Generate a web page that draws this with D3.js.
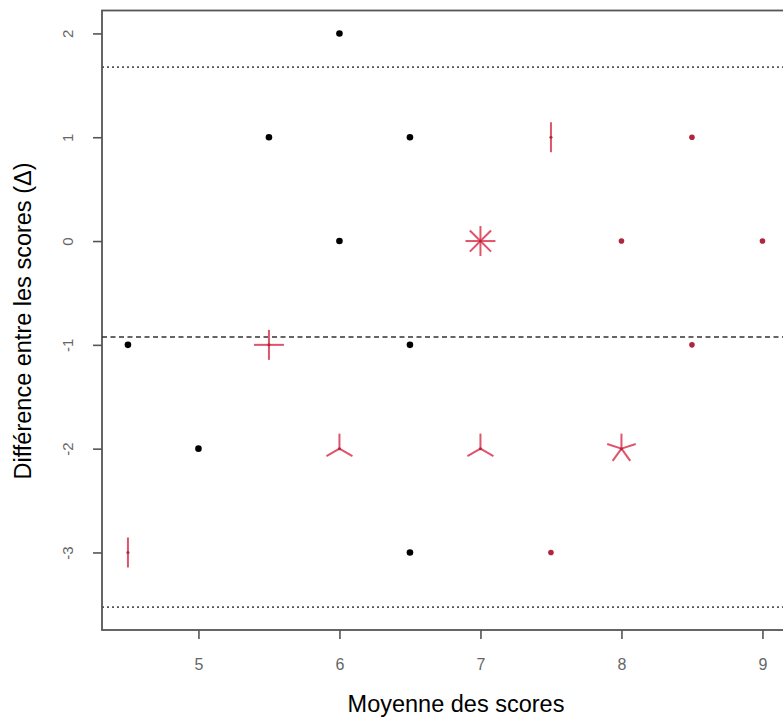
<!DOCTYPE html>
<html><head><meta charset="utf-8">
<script src="https://cdn.jsdelivr.net/npm/d3@7"></script>
<style>body{margin:0;background:#fff;} svg{display:block;font-family:"Liberation Sans",Arial,sans-serif;}</style>
</head><body>
<svg id="c" width="783" height="719"></svg>
<script>
// Data
const xTicks = [5, 6, 7, 8, 9];
const yTicks = [-3, -2, -1, 0, 1, 2];
// single observations (black)
const blackX = [4.5, 5, 5.5, 6, 6, 6.5, 6.5, 6.5];
const blackY = [-1, -2, 1, 2, 0, 1, -1, -3];
// single observations (red)
const redX = [8.5, 8, 9, 8.5, 7.5];
const redY = [1, 0, 0, -1, -3];
// sunflowers (multiple observations)
const sunX = [4.5, 5.5, 6, 7, 7, 7.5, 8];
const sunY = [-3, -1, -2, -2, 0, 1, -2];
const sunN = [2, 4, 3, 3, 8, 2, 5];
// reference lines: mean difference and limits of agreement
const meanDiff = -0.925;
const upperLoA = 1.675;
const lowerLoA = -3.526;

const svg = d3.select("#c");
const x = d3.scaleLinear().domain([4.316, 9.184]).range([102, 788.4]);
const y = d3.scaleLinear().domain([-3.747, 2.221]).range([630, 10.5]);

// box
svg.append("rect").attr("x", x(4.316)).attr("y", y(2.221))
  .attr("width", x(9.184) - x(4.316)).attr("height", y(-3.747) - y(2.221))
  .attr("fill", "none").attr("stroke", "#555").attr("stroke-width", 1.8);

// axes
const xAxis = d3.axisBottom(x).tickValues(xTicks).tickSize(9).tickPadding(20).tickFormat(d3.format("d"));
const gx = svg.append("g").attr("transform", `translate(0,630)`).call(xAxis);
gx.select(".domain").remove();
gx.selectAll("line").attr("stroke", "#555").attr("stroke-width", 1.6);
gx.selectAll("text").attr("fill", "#666").attr("font-size", 16).attr("font-family", "Liberation Sans, Arial, sans-serif");

const yAxis = d3.axisLeft(y).tickValues(yTicks).tickSize(9).tickFormat(d => d < 0 ? "-" + Math.abs(d) : String(d));
const gy = svg.append("g").attr("transform", `translate(102,0)`).call(yAxis);
gy.select(".domain").remove();
gy.selectAll("line").attr("stroke", "#555").attr("stroke-width", 1.6);
gy.selectAll("text").attr("fill", "#666").attr("font-size", 15).attr("font-family", "Liberation Sans, Arial, sans-serif")
  .attr("x", null).attr("text-anchor", "middle")
  .attr("transform", `translate(-34,0) rotate(-90)`).attr("dy", "0.35em");

// reference lines
const xr = [4.316, 9.184];
svg.append("line").attr("x1", x(xr[0])).attr("x2", x(xr[1])).attr("y1", y(upperLoA)).attr("y2", y(upperLoA))
  .attr("stroke", "#555").attr("stroke-width", 1.8).attr("stroke-dasharray", "2,3");
svg.append("line").attr("x1", x(xr[0])).attr("x2", x(xr[1])).attr("y1", y(lowerLoA)).attr("y2", y(lowerLoA))
  .attr("stroke", "#555").attr("stroke-width", 1.8).attr("stroke-dasharray", "2,3");
svg.append("line").attr("x1", x(xr[0])).attr("x2", x(xr[1])).attr("y1", y(meanDiff)).attr("y2", y(meanDiff))
  .attr("stroke", "#333").attr("stroke-width", 1.4).attr("stroke-dasharray", "5,3.5");

// black points
svg.append("g").selectAll("circle").data(blackX.map((v, i) => [v, blackY[i]])).join("circle")
  .attr("cx", d => x(d[0])).attr("cy", d => y(d[1])).attr("r", 3.3).attr("fill", "#000");
// red points
svg.append("g").selectAll("circle").data(redX.map((v, i) => [v, redY[i]])).join("circle")
  .attr("cx", d => x(d[0])).attr("cy", d => y(d[1])).attr("r", 2.8).attr("fill", "#b0263c");

// sunflowers
const petal = 15;
const sg = svg.append("g");
sunX.forEach((sx, i) => {
  const n = sunN[i];
  const cx = x(sx), cy = y(sunY[i]);
  for (let k = 1; k <= n; k++) {
    const a = 2 * Math.PI * k / n;
    sg.append("line").attr("x1", cx).attr("y1", cy)
      .attr("x2", cx + petal * Math.sin(a)).attr("y2", cy - petal * Math.cos(a))
      .attr("stroke", "#DF536B").attr("stroke-width", 2).attr("stroke-linecap", "butt");
  }
  sg.append("circle").attr("cx", cx).attr("cy", cy).attr("r", 1.5).attr("fill", "#b0263c");
});

// titles
svg.append("text").attr("x", 456).attr("y", 712).attr("text-anchor", "middle")
  .attr("font-size", 23.5).attr("fill", "#000").text("Moyenne des scores");
svg.append("text").attr("transform", "translate(31,321) rotate(-90)").attr("text-anchor", "middle")
  .attr("font-size", 23.5).attr("fill", "#000").text("Différence entre les scores (Δ)");
</script>
</body></html>
